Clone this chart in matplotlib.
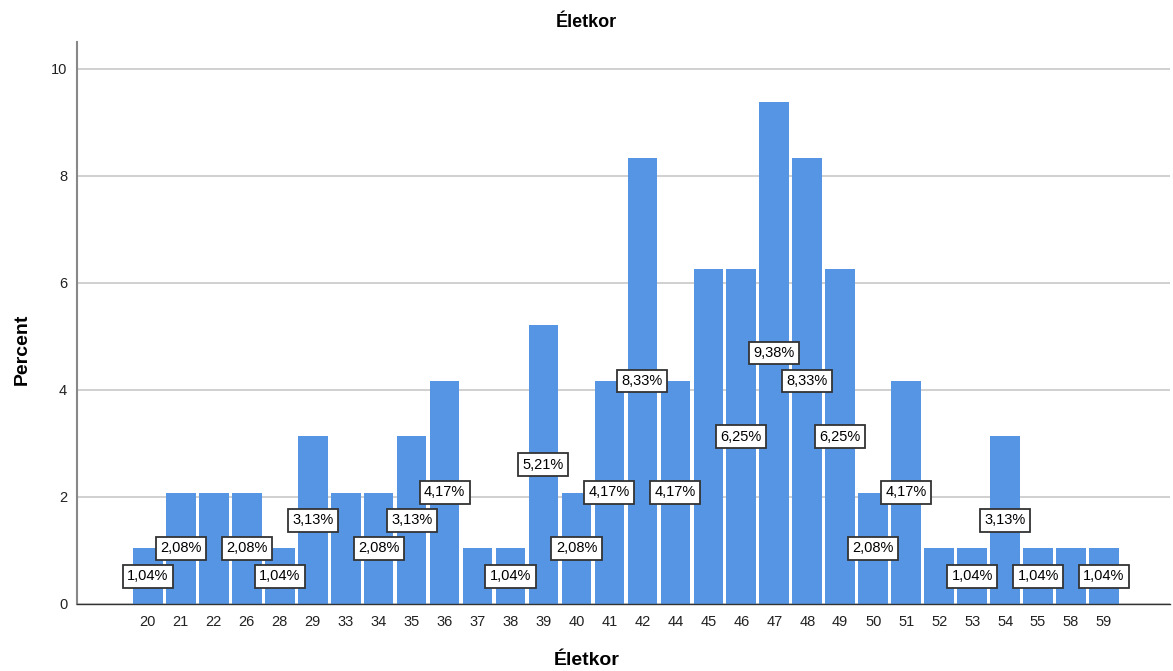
import matplotlib
matplotlib.use("Agg")
import matplotlib.pyplot as plt

plt.rcParams['font.family'] = ['Liberation Sans', 'DejaVu Sans']

ages = ["20", "21", "22", "26", "28", "29", "33", "34", "35", "36", "37", "38", "39", "40",
        "41", "42", "44", "45", "46", "47", "48", "49", "50", "51", "52", "53", "54", "55",
        "58", "59"]
percent = [1.04, 2.08, 2.08, 2.08, 1.04, 3.13, 2.08, 2.08, 3.13, 4.17, 1.04, 1.04, 5.21, 2.08,
           4.17, 8.33, 4.17, 6.25, 6.25, 9.38, 8.33, 6.25, 2.08, 4.17, 1.04, 1.04, 3.13, 1.04,
           1.04, 1.04]
# labels hidden in the original (overlapping)
hidden = ["22", "33", "37", "45", "52", "58"]

fig = plt.figure(figsize=(11.73, 6.71), dpi=100)
ax = fig.add_axes([0.0656, 0.0999, 0.9318, 0.8375])

x = list(range(len(ages)))
ax.bar(x, percent, width=0.9, color='#5595E3', edgecolor='none', zorder=2)

for xi, a, p in zip(x, ages, percent):
    if a in hidden:
        continue
    ax.text(xi, p / 2, f"{p:.2f}%".replace('.', ','), ha='center', va='center', fontsize=10.5,
            zorder=4,
            bbox=dict(boxstyle='square,pad=0.3', facecolor='white', edgecolor='#333333', linewidth=1.3))

ax.set_xlim(-2.15, len(ages) - 1 + 2.0)
ax.set_ylim(0, 10.5)
ax.set_yticks([0, 2, 4, 6, 8, 10])
ax.set_xticks(x)
ax.set_xticklabels(ages)
ax.tick_params(axis='x', length=0, labelsize=10.5, pad=8, labelcolor='#222222')
ax.tick_params(axis='y', length=0, labelsize=10.5, pad=7, labelcolor='#222222')
ax.yaxis.grid(True, color='#c8c8c8', linewidth=1.2, zorder=0)
ax.set_axisbelow(True)

for s in ['top', 'right']:
    ax.spines[s].set_visible(False)
ax.spines['left'].set_color('#888888')
ax.spines['left'].set_linewidth(1.5)
ax.spines['bottom'].set_color('#333333')
ax.spines['bottom'].set_linewidth(1.0)

fig.text(0.5, 0.967, "Életkor", ha='center', va='center', fontsize=13, fontweight='bold')
fig.text(0.5, 0.016, "Életkor", ha='center', va='center', fontsize=14, fontweight='bold')
fig.text(0.019, 0.48, "Percent", ha='center', va='center', fontsize=14, fontweight='bold', rotation=90)

fig.savefig("out.png", dpi=100)
